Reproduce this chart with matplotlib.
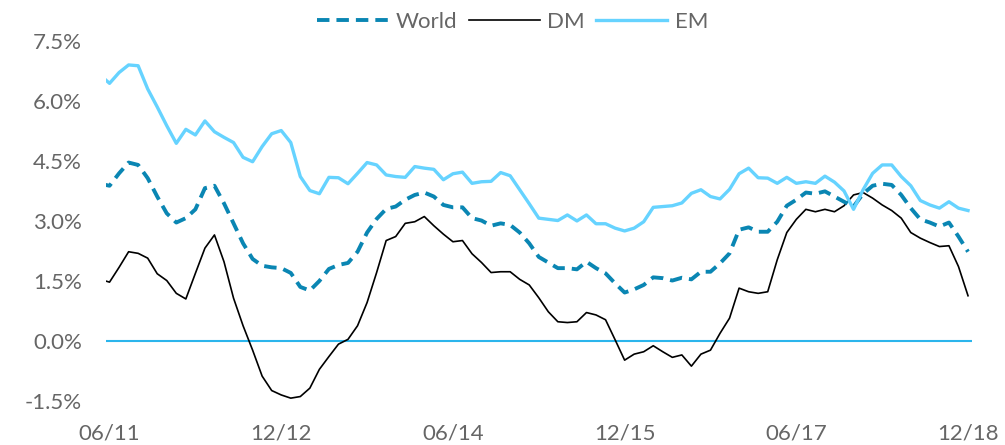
import matplotlib
matplotlib.use("Agg")
import matplotlib.pyplot as plt
import pandas as pd

# monthly series, 05/11 .. 12/18 (first point sits just left of the axis and gets clipped)
months = pd.period_range("2011-05", "2018-12", freq="M")

world = [3.93, 3.88, 4.19, 4.46, 4.40, 4.07, 3.61, 3.19, 2.96, 3.07,
         3.29, 3.82, 3.88, 3.44, 2.94, 2.44, 2.05, 1.88, 1.84, 1.82,
         1.70, 1.35, 1.26, 1.50, 1.80, 1.90, 1.95, 2.23, 2.71, 3.05,
         3.30, 3.36, 3.53, 3.65, 3.71, 3.61, 3.40, 3.34, 3.34, 3.07,
         3.01, 2.88, 2.94, 2.90, 2.71, 2.44, 2.10, 1.96, 1.82, 1.82,
         1.79, 1.98, 1.82, 1.69, 1.44, 1.21, 1.29, 1.40, 1.59, 1.57,
         1.51, 1.58, 1.54, 1.73, 1.73, 1.94, 2.19, 2.78, 2.84, 2.73,
         2.73, 2.98, 3.38, 3.53, 3.71, 3.68, 3.74, 3.61, 3.48, 3.36,
         3.68, 3.88, 3.93, 3.90, 3.65, 3.32, 3.04, 2.96, 2.86, 2.96,
         2.61, 2.23]

dm = [1.54, 1.47, 1.84, 2.23, 2.19, 2.07, 1.68, 1.51, 1.19, 1.05,
      1.69, 2.32, 2.65, 1.98, 1.07, 0.38, -0.23, -0.88, -1.24, -1.35,
      -1.43, -1.39, -1.18, -0.71, -0.39, -0.08, 0.04, 0.38, 0.96, 1.71,
      2.51, 2.61, 2.94, 2.98, 3.11, 2.88, 2.67, 2.48, 2.51, 2.18,
      1.96, 1.71, 1.73, 1.73, 1.54, 1.40, 1.08, 0.73, 0.48, 0.46,
      0.48, 0.71, 0.65, 0.53, 0.03, -0.48, -0.33, -0.27, -0.12, -0.27,
      -0.41, -0.35, -0.63, -0.33, -0.23, 0.19, 0.57, 1.32, 1.23, 1.19,
      1.23, 2.03, 2.71, 3.04, 3.29, 3.23, 3.29, 3.23, 3.38, 3.65,
      3.71, 3.57, 3.40, 3.26, 3.07, 2.71, 2.57, 2.46, 2.36, 2.38,
      1.86, 1.13]

em = [6.65, 6.44, 6.71, 6.90, 6.88, 6.30, 5.85, 5.38, 4.94, 5.29,
      5.15, 5.50, 5.23, 5.09, 4.96, 4.59, 4.48, 4.86, 5.18, 5.26,
      4.96, 4.11, 3.76, 3.68, 4.09, 4.08, 3.93, 4.19, 4.46, 4.40,
      4.15, 4.11, 4.09, 4.36, 4.32, 4.29, 4.03, 4.18, 4.22, 3.94,
      3.98, 3.99, 4.21, 4.13, 3.78, 3.43, 3.07, 3.04, 3.01, 3.15,
      3.00, 3.15, 2.93, 2.93, 2.82, 2.75, 2.82, 2.98, 3.34, 3.36,
      3.38, 3.45, 3.69, 3.78, 3.61, 3.55, 3.79, 4.18, 4.32, 4.08,
      4.07, 3.94, 4.09, 3.94, 3.98, 3.94, 4.12, 3.97, 3.75, 3.29,
      3.78, 4.19, 4.40, 4.40, 4.11, 3.88, 3.51, 3.40, 3.32, 3.48,
      3.32, 3.26]

tick_months = ["2011-06", "2012-12", "2014-06", "2015-12", "2017-06", "2018-12"]
y_ticks = [-1.5, 0.0, 1.5, 3.0, 4.5, 6.0, 7.5]

WORLD_C = "#0A86B3"
EM_C = "#66D3FF"
ZERO_C = "#2BB5EC"
TEXT_C = "#666666"

plt.rcParams["font.family"] = ["Lato", "DejaVu Sans"]

fig = plt.figure(figsize=(10.05, 4.45), dpi=100)
ax = fig.add_axes([0.105, 0.099, 0.862, 0.809])

x = list(range(len(months)))
ax.axhline(0, color=ZERO_C, lw=1.5, zorder=1)
ax.plot(x, world, color=WORLD_C, lw=2.8, ls=(0, (3.2, 1.8)), label="World", zorder=3)
ax.plot(x, dm, color="black", lw=1.2, label="DM", zorder=2)
ax.plot(x, em, color=EM_C, lw=2.4, label="EM", zorder=4)

ax.set_xlim(0.58, 91.4)
ax.set_ylim(-1.5, 7.5)

tick_pos = [list(months.strftime("%Y-%m")).index(m) for m in tick_months]
ax.set_xticks(tick_pos)
ax.set_xticklabels([pd.Period(m).strftime("%m/%y") for m in tick_months])
ax.set_yticks(y_ticks)
ax.set_yticklabels([f"{v:.1f}%" for v in y_ticks])
ax.tick_params(length=0, labelsize=16, labelcolor=TEXT_C)
ax.tick_params(axis="y", pad=17)
ax.tick_params(axis="x", pad=16)
for s in ax.spines.values():
    s.set_visible(False)

ax.legend(loc="upper center", bbox_to_anchor=(0.47, 1.105), ncol=3, frameon=False,
          fontsize=16, labelcolor=TEXT_C, handlelength=3.2, handletextpad=0.35,
          columnspacing=0.5, borderaxespad=0)

fig.savefig("out.png", dpi=100)
